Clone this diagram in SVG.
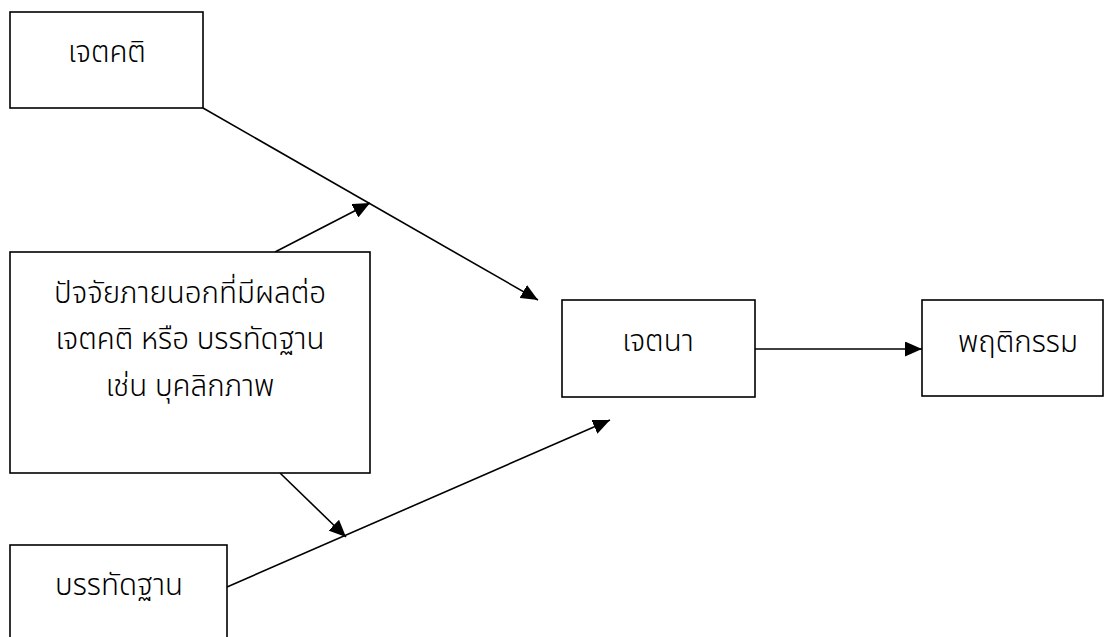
<svg xmlns="http://www.w3.org/2000/svg" width="1104" height="637" viewBox="0 0 1104 637">
<style>
.box{fill:#fff;stroke:#000;stroke-width:1.6}
.t{font-family:"Noto Sans Thai","Noto Sans","DejaVu Sans",sans-serif;font-size:29.5px;font-weight:300;fill:#000;text-anchor:middle}
.c{stroke:#000;stroke-width:1.6;fill:none}
</style>
<defs>
<marker id="ah" markerUnits="userSpaceOnUse" markerWidth="17" markerHeight="15" refX="17" refY="7.5" orient="auto">
<path d="M0,0 L17,7.5 L0,15 Z" fill="#000"/>
</marker>
</defs>
<rect width="1104" height="637" fill="#fff"/>
<g id="connectors">
<line class="c" x1="203" y1="108" x2="538" y2="300" marker-end="url(#ah)"/>
<line class="c" x1="275" y1="252" x2="370" y2="203" marker-end="url(#ah)"/>
<line class="c" x1="227" y1="587" x2="610" y2="420" marker-end="url(#ah)"/>
<line class="c" x1="280" y1="473" x2="346" y2="537" marker-end="url(#ah)"/>
<line class="c" x1="755" y1="349" x2="922" y2="349" marker-end="url(#ah)"/>
</g>
<g id="n-attitude">
<rect class="box" x="10" y="12" width="193" height="96"/>
<text class="t" x="107" y="62">เจตคติ</text>
</g>
<g id="n-external">
<rect class="box" x="10" y="252" width="360" height="221"/>
<text class="t" x="190" y="303">ปัจจัยภายนอกที่มีผลต่อ</text>
<text class="t" x="190" y="349">เจตคติ หรือ บรรทัดฐาน</text>
<text class="t" x="190" y="396">เช่น บุคลิกภาพ</text>
</g>
<g id="n-norm">
<rect class="box" x="10" y="545" width="217" height="100"/>
<text class="t" x="119" y="595">บรรทัดฐาน</text>
</g>
<g id="n-intention">
<rect class="box" x="562" y="300" width="193" height="97"/>
<text class="t" x="658" y="351">เจตนา</text>
</g>
<g id="n-behavior">
<rect class="box" x="922" y="300" width="181" height="96"/>
<text class="t" x="1018" y="352">พฤติกรรม</text>
</g>
</svg>
